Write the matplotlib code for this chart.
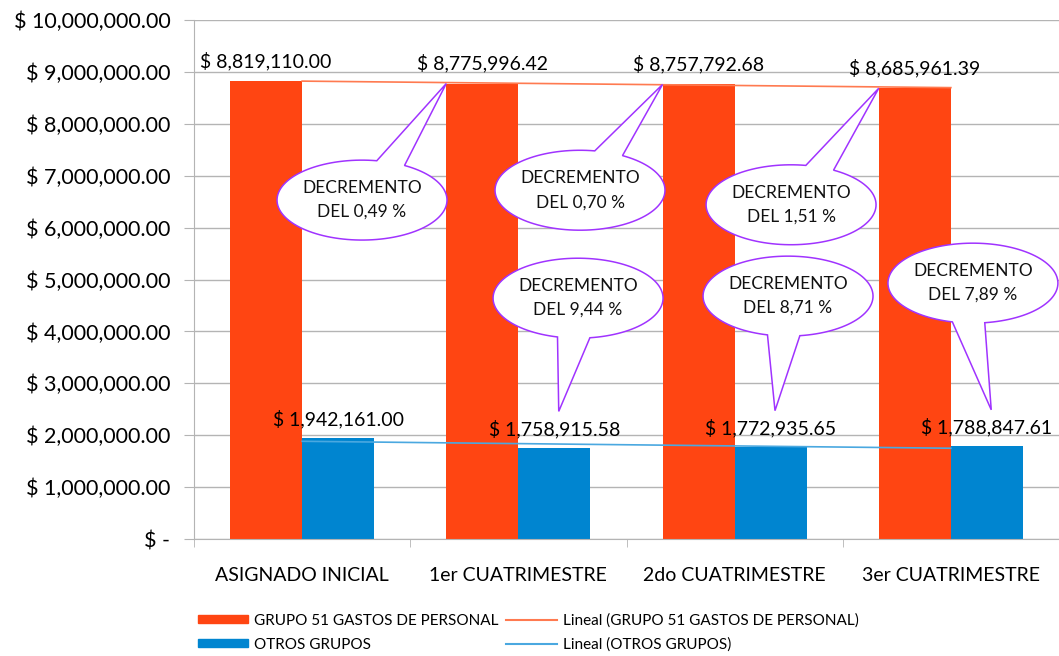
import numpy as np
import matplotlib
matplotlib.use("Agg")
import matplotlib.pyplot as plt
from matplotlib.patches import Polygon, Patch
from matplotlib.lines import Line2D
from matplotlib.ticker import FuncFormatter, FixedLocator

plt.rcParams["font.family"] = ["Lato", "DejaVu Sans"]

# --- data ---
categories = ["ASIGNADO INICIAL", "1er CUATRIMESTRE", "2do CUATRIMESTRE", "3er CUATRIMESTRE"]
grupo51 = [8819110.00, 8775996.42, 8757792.68, 8685961.39]
otros = [1942161.00, 1758915.58, 1772935.65, 1788847.61]
series_names = ["GRUPO 51 GASTOS DE PERSONAL", "OTROS GRUPOS"]

decremento_51 = ["0,49", "0,70", "1,51"]
decremento_otros = ["9,44", "8,71", "7,89"]

ORANGE = "#FF4512"
BLUE = "#0085D0"
ORANGE_TREND = "#FF7A50"
BLUE_TREND = "#4AA8E0"
PURPLE = "#A033FF"
GRID = "#B4B4B4"


def money(v, pos=None):
    if v == 0:
        return "$ -"
    return "$ {:,.2f}".format(v)


def callout(ax, cx, cy, a, b, t1, t2, tip, text):
    # ellipse outline with a wedge going out to the tip between angles t1 and t2
    ts = np.radians(np.linspace(t2, t1 + 360, 120))
    pts = list(zip(cx + a * np.cos(ts), cy + b * np.sin(ts)))
    pts.append(tip)
    ax.add_patch(Polygon(pts, closed=True, facecolor="white", edgecolor=PURPLE,
                         linewidth=1.1, zorder=5, clip_on=False))
    ax.text(cx, cy, text, ha="center", va="center", fontsize=12.5,
            linespacing=1.6, zorder=6, color="#111111")


fig = plt.figure(figsize=(10.59, 6.56), dpi=100)
ax = fig.add_axes([194 / 1059, 117 / 656, 865 / 1059, 519 / 656])

x = np.arange(len(categories))
w = 1 / 3
ax.bar(x - w / 2, grupo51, width=w, color=ORANGE, zorder=2)
ax.bar(x + w / 2, otros, width=w, color=BLUE, zorder=2)

# linear trend lines
for vals, col in [(grupo51, ORANGE_TREND), (otros, BLUE_TREND)]:
    k, c = np.polyfit(x, vals, 1)
    ax.plot(x, k * x + c, color=col, linewidth=1.2, zorder=3)

# value labels
for i in range(len(categories)):
    ax.annotate(money(grupo51[i]), (x[i] - w / 2, grupo51[i]), xytext=(0, 8),
                textcoords="offset points", ha="center", va="bottom", fontsize=14)
    ax.annotate(money(otros[i]), (x[i] + w / 2, otros[i]), xytext=(0, 7),
                textcoords="offset points", ha="center", va="bottom", fontsize=14)

ax.set_xlim(-0.5, len(categories) - 0.5)
ax.set_ylim(0, 10000000)
ax.yaxis.set_major_locator(FixedLocator(np.arange(0, 10000001, 1000000)))
ax.yaxis.set_major_formatter(FuncFormatter(money))
ax.set_xticks(x)
ax.set_xticklabels(categories)
ax.set_xticks(np.arange(-0.5, len(categories)), minor=True)

ax.tick_params(axis="y", direction="out", length=7, color=GRID, labelsize=15.5, pad=10)
ax.tick_params(axis="x", which="major", length=0, labelsize=14, pad=20)
ax.tick_params(axis="x", which="minor", direction="out", length=6, color=GRID)
ax.grid(axis="y", color=GRID, linewidth=1, zorder=0)
ax.set_axisbelow(True)
for s in ["top", "right"]:
    ax.spines[s].set_visible(False)
ax.spines["left"].set_color(GRID)
ax.spines["bottom"].set_color(GRID)

# callouts for GRUPO 51 (point to the top-left corner of the next orange bar)
a, b = 0.393, 770000
top_pos = [(0.277, 6530000), (1.285, 6720000), (2.261, 6440000)]
for i, (cx, cy) in enumerate(top_pos):
    tip = (x[i + 1] - w, grupo51[i + 1])
    callout(ax, cx, cy, a, b, 60, 80, tip, "DECREMENTO\nDEL {} %".format(decremento_51[i]))

# callouts for OTROS GRUPOS (point down to the blue value label)
bot_pos = [(1.276, 4640000), (2.247, 4680000), (3.102, 4930000)]
for i, (cx, cy) in enumerate(bot_pos):
    tip = (x[i + 1] + w / 2 + 0.02, otros[i + 1] + 700000)
    callout(ax, cx, cy, a, b, 256, 278, tip, "DECREMENTO\nDEL {} %".format(decremento_otros[i]))

handles = [
    Patch(color=ORANGE), Patch(color=BLUE),
    Line2D([], [], color=ORANGE_TREND, linewidth=1.5),
    Line2D([], [], color=BLUE_TREND, linewidth=1.5),
]
labels = [series_names[0], series_names[1],
          "Lineal ({})".format(series_names[0]), "Lineal ({})".format(series_names[1])]
fig.legend(handles, labels, ncol=2, loc="lower left", bbox_to_anchor=(184 / 1059, -0.015),
           frameon=False, fontsize=11, handlelength=3.3, handleheight=0.45,
           handletextpad=0.4, columnspacing=0.5, labelspacing=0.65)

fig.savefig("out.png", dpi=100)
